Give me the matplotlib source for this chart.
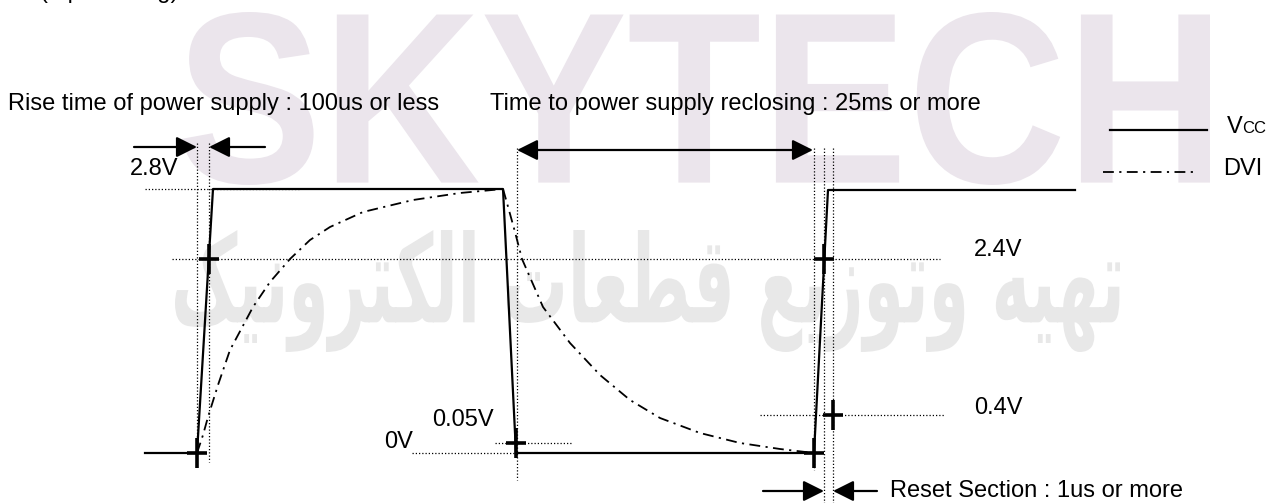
import matplotlib.pyplot as plt
from matplotlib.textpath import TextPath
from matplotlib.patches import PathPatch
from matplotlib.font_manager import FontProperties
from matplotlib.transforms import Affine2D

plt.rcParams['font.family'] = ['Liberation Sans', 'DejaVu Sans']

# waveforms, in drawing units (x right, y down, same scale as the sheet)
vcc_x = [145, 197, 213, 503, 516, 814, 828, 1075]
vcc_y = [453, 453, 189, 189, 453, 453, 190, 190]

dvi_rise_x = [197, 203, 208, 218, 230, 253, 270, 290, 310, 330, 363, 413, 460, 503]
dvi_rise_y = [453, 435, 417, 385, 350, 307, 282, 259, 240, 227, 212, 200, 193, 189]
dvi_fall_x = [503, 507, 515, 522, 543, 570, 600, 630, 660, 700, 740, 780, 814]
dvi_fall_y = [189, 203, 232, 259, 307, 343, 375, 400, 418, 433, 443, 449, 453]

# measuring points (+ marks)
cross_x = [197, 209, 516, 814, 824, 833]
cross_y = [453, 259, 443, 453, 259, 415]

# dotted guides
vguide_x = [197, 209, 517, 814, 824, 833]
vguide_y0 = [143, 143, 148, 148, 148, 148]
vguide_y1 = [453, 462, 480, 470, 503, 503]
hguide_y = [189, 259, 415, 443, 453]
hguide_x0 = [145, 172, 760, 495, 412]
hguide_x1 = [300, 940, 945, 572, 516]

level_labels = ['2.8V', '2.4V', '0.4V', '0.05V', '0V']
level_lx = [130, 974, 974, 432, 384]
level_ly = [169, 250, 408, 420, 442]

fig = plt.figure(figsize=(12.85, 5.03), dpi=100)
ax = fig.add_axes([0, 0, 1, 1])
ax.set_xlim(0, 1285)
ax.set_ylim(503, 0)
ax.axis('off')


def stamp(s, x0, x1, ytop, ybot, color, **fp):
    # watermark text stretched to fill a box
    tp = TextPath((0, 0), s, size=100, prop=FontProperties(**fp))
    ext = tp.get_extents()
    sx = (x1 - x0) / ext.width
    sy = (ybot - ytop) / ext.height
    tr = Affine2D().translate(-ext.x0, -ext.y0).scale(sx, -sy).translate(x0, ybot)
    ax.add_patch(PathPatch(tp, transform=tr + ax.transData, fc=color, ec='none', zorder=0))


stamp('SKYTECH', 182, 1210, 12, 185, '#ebe5ec', family='Liberation Sans', weight='bold')
fa = '\uFE97\uFEEC\uFBFF\uFEEA \uFEED\uFE97\uFEEE\uFEAF\uFBFE\uFECA \uFED7\uFEC4\uFECC\uFE8E\uFE95 \uFE8D\uFEDF\uFB91\uFE98\uFEAE\uFEED\uFEE7\uFBFF\uFB8F'
stamp(fa[::-1], 175, 1120, 230, 352, '#e8e8e8', family='DejaVu Sans', weight='bold')

ax.text(40, -2, '(Input timing)', fontsize=17, va='baseline')

dot = (0, (1, 1.6))
for x, a, b in zip(vguide_x, vguide_y0, vguide_y1):
    ax.plot([x, x], [a, b], color='black', lw=0.9, ls=dot, zorder=1)
for y, a, b in zip(hguide_y, hguide_x0, hguide_x1):
    ax.plot([a, b], [y, y], color='black', lw=0.9, ls=dot, zorder=1)

ax.plot(vcc_x, vcc_y, color='black', lw=1.6, zorder=3)
dd = (0, (6, 3, 1.2, 3))
ax.plot(dvi_rise_x, dvi_rise_y, color='black', lw=1.3, ls=dd, zorder=2)
ax.plot(dvi_fall_x, dvi_fall_y, color='black', lw=1.3, ls=dd, zorder=2)

ax.plot(cross_x, cross_y, ls='none', marker='_', ms=15, mew=2.6, color='black', zorder=4)
ax.plot(cross_x, cross_y, ls='none', marker='|', ms=22, mew=2.6, color='black', zorder=4)

for lab, x, y in zip(level_labels, level_lx, level_ly):
    ax.text(x, y, lab, fontsize=17, va='center', ha='left')

arw = dict(arrowstyle='-|>,head_length=0.9,head_width=0.45', color='black',
           lw=1.6, mutation_scale=14, shrinkA=0, shrinkB=0)
arw2 = dict(arw, arrowstyle='<|-|>,head_length=0.9,head_width=0.45')
ax.annotate('', xy=(197, 147), xytext=(134, 147), arrowprops=arw)
ax.annotate('', xy=(209, 147), xytext=(265, 147), arrowprops=arw)
ax.annotate('', xy=(813, 150), xytext=(517, 150), arrowprops=arw2)
ax.annotate('', xy=(824, 491), xytext=(763, 491), arrowprops=arw)
ax.annotate('', xy=(833, 491), xytext=(877, 491), arrowprops=arw)

ax.text(8, 110, 'Rise time of power supply : 100us or less', fontsize=17, va='baseline')
ax.text(490, 110, 'Time to power supply reclosing : 25ms or more', fontsize=17, va='baseline')
ax.text(890, 497, 'Reset Section : 1us or more', fontsize=17, va='baseline')

# legend
ax.plot([1110, 1207], [130, 130], color='black', lw=1.6)
ax.plot([1103, 1195], [172, 172], color='black', lw=1.3, ls=dd)
ax.text(1227, 133, 'V', fontsize=17, va='baseline')
ax.text(1242, 133, 'CC', fontsize=12, va='baseline')
ax.text(1223, 175, 'DVI', fontsize=17, va='baseline')

fig.savefig('out.png', dpi=100)
